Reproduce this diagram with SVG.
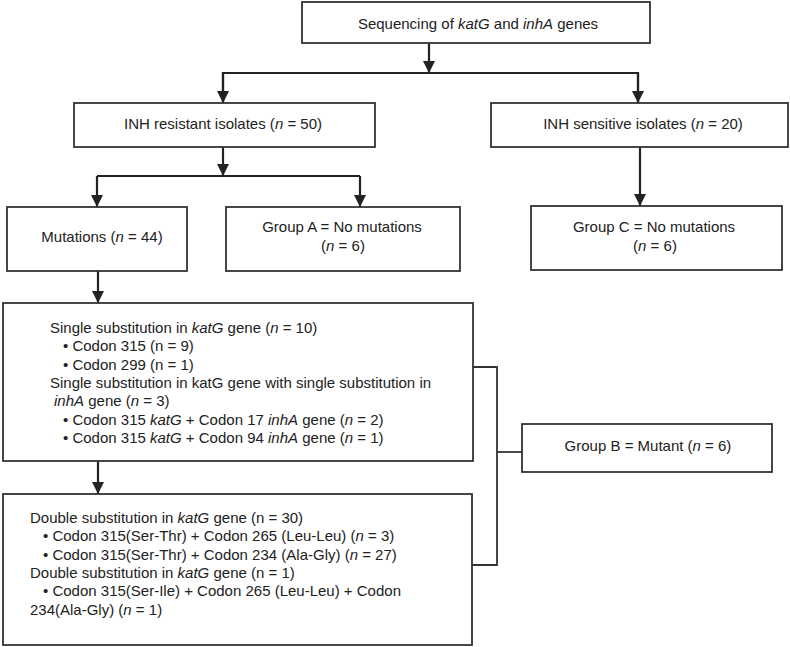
<svg xmlns="http://www.w3.org/2000/svg" width="790" height="647" viewBox="0 0 790 647">
<style>
.box{fill:#fff;stroke:#333;stroke-width:1.8}
.t{font-family:"Liberation Sans",Arial,sans-serif;font-size:15px;fill:#222}
.c{text-anchor:middle}
.i{font-style:italic}
.arr{fill:none;stroke:#222;stroke-width:2.2}
.ln{fill:none;stroke:#333;stroke-width:1.8}
</style>
<defs>
<marker id="ah" markerUnits="userSpaceOnUse" markerWidth="12" markerHeight="13" refX="12" refY="6" orient="auto" viewBox="0 0 12 12">
<path d="M0,0 L12,6 L0,12 Z" fill="#222"/>
</marker>
</defs>
<g id="connectors">
<line class="arr" x1="429" y1="43" x2="429" y2="73" marker-end="url(#ah)"/>
<polyline class="arr" points="223,103 223,73 638,73 638,103"/>
<line class="arr" x1="223" y1="73" x2="223" y2="103" marker-end="url(#ah)"/>
<line class="arr" x1="638" y1="73" x2="638" y2="103" marker-end="url(#ah)"/>
<line class="arr" x1="223" y1="147" x2="223" y2="176" marker-end="url(#ah)"/>
<line class="arr" x1="97" y1="176" x2="360" y2="176"/>
<line class="arr" x1="97" y1="176" x2="97" y2="207" marker-end="url(#ah)"/>
<line class="arr" x1="360" y1="176" x2="360" y2="207" marker-end="url(#ah)"/>
<line class="arr" x1="640" y1="147" x2="640" y2="206" marker-end="url(#ah)"/>
<line class="arr" x1="98" y1="271" x2="98" y2="303" marker-end="url(#ah)"/>
<line class="arr" x1="98" y1="461" x2="98" y2="494" marker-end="url(#ah)"/>
<polyline class="ln" points="473,367 497,367 497,565 472,565"/>
<line class="ln" x1="497" y1="452" x2="522" y2="452"/>
</g>
<g id="top">
<rect class="box" x="302" y="2" width="348" height="41"/>
<text class="t c" x="478" y="28.5">Sequencing of <tspan class="i">katG</tspan> and <tspan class="i">inhA</tspan> genes</text>
</g>
<g id="resistant">
<rect class="box" x="74" y="103" width="301" height="44"/>
<text class="t c" x="223" y="128.5">INH resistant isolates (<tspan class="i">n</tspan> = 50)</text>
</g>
<g id="sensitive">
<rect class="box" x="491" y="103" width="297" height="44"/>
<text class="t c" x="643" y="128.5">INH sensitive isolates (<tspan class="i">n</tspan> = 20)</text>
</g>
<g id="mutations">
<rect class="box" x="7" y="207" width="180" height="64"/>
<text class="t c" x="102" y="242">Mutations (<tspan class="i">n</tspan> = 44)</text>
</g>
<g id="groupA">
<rect class="box" x="226" y="207" width="234" height="64"/>
<text class="t c" x="342" y="232">Group A = No mutations</text>
<text class="t c" x="343" y="250.5">(<tspan class="i">n</tspan> = 6)</text>
</g>
<g id="groupC">
<rect class="box" x="531" y="206" width="251" height="64"/>
<text class="t c" x="654" y="231.5">Group C = No mutations</text>
<text class="t c" x="655" y="250.5">(<tspan class="i">n</tspan> = 6)</text>
</g>
<g id="single">
<rect class="box" x="3" y="303" width="470" height="158"/>
<text class="t" x="50" y="333">Single substitution in <tspan class="i">katG</tspan> gene (<tspan class="i">n</tspan> = 10)</text>
<text class="t" x="63" y="351">• Codon 315 (n = 9)</text>
<text class="t" x="63" y="369.5">• Codon 299 (n = 1)</text>
<text class="t" x="50" y="388">Single substitution in katG gene with single substitution in</text>
<text class="t" x="54" y="406"><tspan class="i">inhA</tspan> gene (<tspan class="i">n</tspan> = 3)</text>
<text class="t" x="63" y="424.5">• Codon 315 <tspan class="i">katG</tspan> + Codon 17 <tspan class="i">inhA</tspan> gene (<tspan class="i">n</tspan> = 2)</text>
<text class="t" x="63" y="442.5">• Codon 315 <tspan class="i">katG</tspan> + Codon 94 <tspan class="i">inhA</tspan> gene (<tspan class="i">n</tspan> = 1)</text>
</g>
<g id="double">
<rect class="box" x="3" y="494" width="469" height="151"/>
<text class="t" x="30" y="522.5">Double substitution in <tspan class="i">katG</tspan> gene (n = 30)</text>
<text class="t" x="43" y="541">• Codon 315(Ser-Thr) + Codon 265 (Leu-Leu) (<tspan class="i">n</tspan> = 3)</text>
<text class="t" x="43" y="559.5">• Codon 315(Ser-Thr) + Codon 234 (Ala-Gly) (<tspan class="i">n</tspan> = 27)</text>
<text class="t" x="30" y="577.5">Double substitution in <tspan class="i">katG</tspan> gene (n = 1)</text>
<text class="t" x="43" y="596">• Codon 315(Ser-Ile) + Codon 265 (Leu-Leu) + Codon</text>
<text class="t" x="30" y="614.5">234(Ala-Gly) (<tspan class="i">n</tspan> = 1)</text>
</g>
<g id="groupB">
<rect class="box" x="522" y="424" width="250" height="48"/>
<text class="t c" x="648" y="451">Group B = Mutant (<tspan class="i">n</tspan> = 6)</text>
</g>
</svg>
